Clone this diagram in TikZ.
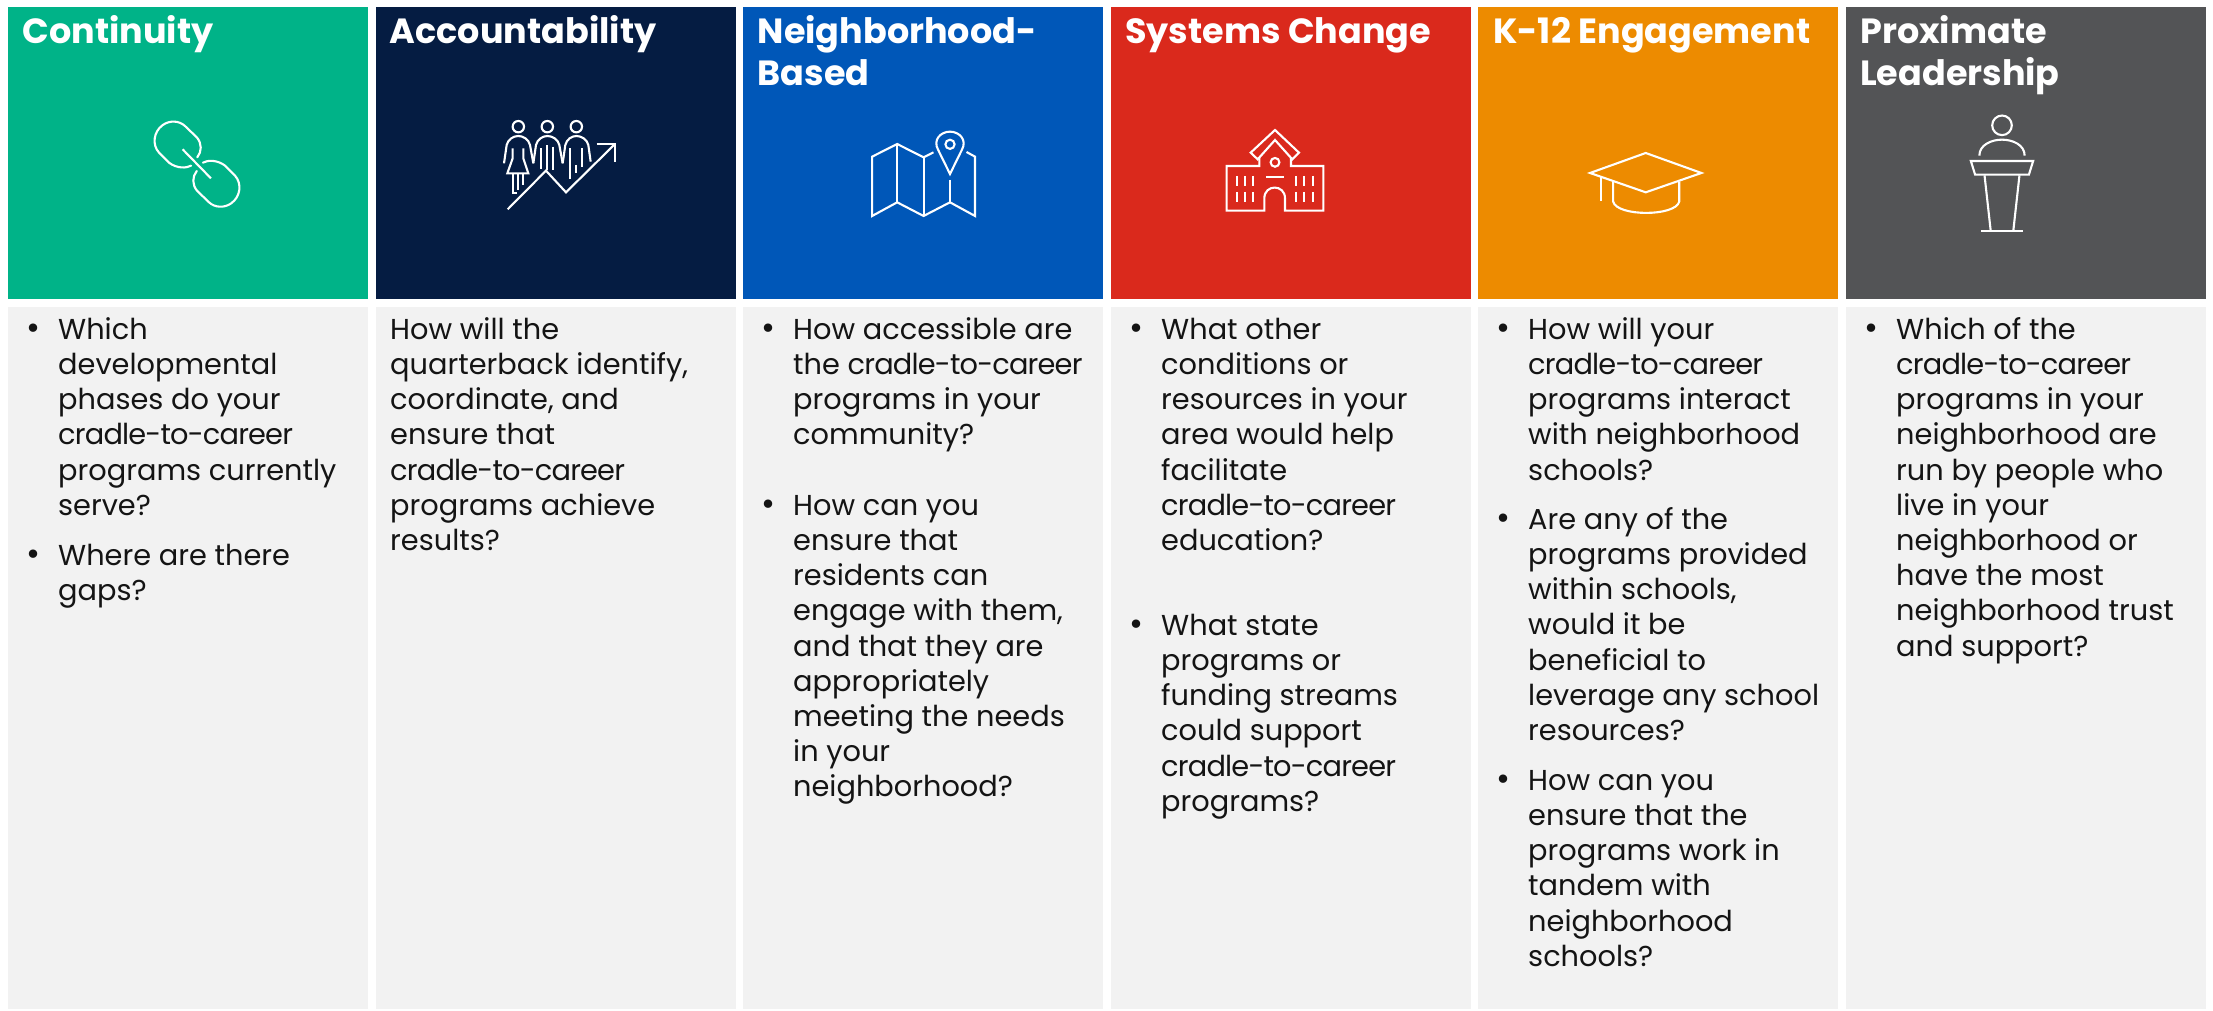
\documentclass[tikz,border=0pt]{standalone}
\usepackage{fontspec}
\setmainfont{Poppins}
\definecolor{cgreen}{RGB}{0,179,136}
\definecolor{cnavy}{RGB}{5,28,66}
\definecolor{cblue}{RGB}{0,87,184}
\definecolor{cred}{RGB}{218,41,28}
\definecolor{corange}{RGB}{237,139,0}
\definecolor{cgray}{RGB}{83,84,86}
\definecolor{clight}{RGB}{242,242,242}
\definecolor{ctext}{RGB}{20,20,20}
\tikzset{
  headbox/.style={anchor=north west,inner sep=0pt,minimum width=359.8pt,minimum height=292pt},
  bodybox/.style={anchor=north west,inner sep=0pt,fill=clight,minimum width=359.8pt,minimum height=702.5pt},
  headtext/.style={anchor=north west,inner sep=0pt,align=left,text=white,font=\fontsize{35}{42}\selectfont\bfseries},
  bodytext/.style={anchor=north west,inner sep=0pt,align=left,text=ctext,font=\fontsize{28.8}{35.2}\selectfont},
  bulletmark/.style={anchor=north west,inner sep=0pt,text=ctext,font=\fontsize{34}{35.2}\selectfont},
  icon/.style={draw=white,line width=2.1pt,line join=miter},
}
\newcommand{\hs}{\rule{0pt}{40pt}}
\newcommand{\bs}{\rule{0pt}{25pt}}
\newcommand{\ctc}{{\addfontfeature{LetterSpace=-2.8}cradle-to-career}}
\begin{document}
\begin{tikzpicture}[x=1pt,y=-1pt]
\useasboundingbox (0,0) rectangle (2213,1010);
% header boxes
\node[headbox,fill=cgreen]  (h1) at (8,6.5) {};
\node[headbox,fill=cnavy]   (h2) at (375.5,6.5) {};
\node[headbox,fill=cblue]   (h3) at (743,6.5) {};
\node[headbox,fill=cred]    (h4) at (1110.5,6.5) {};
\node[headbox,fill=corange] (h5) at (1478,6.5) {};
\node[headbox,fill=cgray]   (h6) at (1845.7,6.5) {};
% body boxes
\node[bodybox] (b1) at (8,306.7) {};
\node[bodybox] (b2) at (375.5,306.7) {};
\node[bodybox] (b3) at (743,306.7) {};
\node[bodybox] (b4) at (1110.5,306.7) {};
\node[bodybox] (b5) at (1478,306.7) {};
\node[bodybox] (b6) at (1845.7,306.7) {};
% titles: baseline = y + 40
\node[headtext] (t1) at (22.5,3) {\hs Continuity};
\node[headtext] (t2) at (389.5,3) {\hs Accountability};
\node[headtext] (t3) at (757.5,3) {\hs Neighborhood-\\Based};
\node[headtext] (t4) at (1125,3) {\hs Systems Change};
\node[headtext] (t5) at (1493,3) {\hs K-12 Engagement};
\node[headtext] (t6) at (1860,3) {\hs Proximate\\Leadership};
% column 1
\node[bulletmark] (m11) at (26,314) {\bs •};
\node[bodytext] (p11) at (58,314) {\bs Which\\developmental\\phases do your\\\ctc\\programs currently\\serve?};
\node[bulletmark] (m12) at (26,540) {\bs •};
\node[bodytext] (p12) at (58,540) {\bs Where are there\\gaps?};
% column 2
\node[bodytext] (p21) at (390,314) {\bs How will the\\quarterback identify,\\coordinate, and\\ensure that\\\ctc\\programs achieve\\results?};
% column 3
\node[bulletmark] (m31) at (761,314) {\bs •};
\node[bodytext] (p31) at (793,314) {\bs How accessible are\\the \ctc\\programs in your\\community?};
\node[bulletmark] (m32) at (761,490) {\bs •};
\node[bodytext] (p32) at (793,490) {\bs How can you\\ensure that\\residents can\\engage with them,\\and that they are\\appropriately\\meeting the needs\\in your\\neighborhood?};
% column 4
\node[bulletmark] (m41) at (1129,314) {\bs •};
\node[bodytext] (p41) at (1161,314) {\bs What other\\conditions or\\resources in your\\area would help\\facilitate\\\ctc\\education?};
\node[bulletmark] (m42) at (1129,610) {\bs •};
\node[bodytext] (p42) at (1161,610) {\bs What state\\programs or\\funding streams\\could support\\\ctc\\programs?};
% column 5
\node[bulletmark] (m51) at (1496,314) {\bs •};
\node[bodytext] (p51) at (1528,314) {\bs How will your\\\ctc\\programs interact\\with neighborhood\\schools?};
\node[bulletmark] (m52) at (1496,504) {\bs •};
\node[bodytext] (p52) at (1528,504) {\bs Are any of the\\programs provided\\within schools,\\would it be\\beneficial to\\leverage any school\\resources?};
\node[bulletmark] (m53) at (1496,765) {\bs •};
\node[bodytext] (p53) at (1528,765) {\bs How can you\\ensure that the\\programs work in\\tandem with\\neighborhood\\schools?};
% column 6
\node[bulletmark] (m61) at (1864,314) {\bs •};
\node[bodytext] (p61) at (1896,314) {\bs Which of the\\\ctc\\programs in your\\neighborhood are\\run by people who\\live in your\\neighborhood or\\have the most\\neighborhood trust\\and support?};
% chain icon
\begin{scope}[x=0.4719pt,y=-0.3333pt]
\draw[icon,line cap=round] (405,497) .. controls (395,505) and (375,506) .. (358,488) -- (337,458) .. controls (322,435) and (325,395) .. (345,375) .. controls (360,360) and (380,362) .. (392,378) -- (417,412) .. controls (428,430) and (428,455) .. (418,472);
\draw[icon,line cap=round] (430,488) .. controls (440,480) and (460,479) .. (477,497) -- (498,527) .. controls (513,550) and (510,590) .. (490,610) .. controls (475,625) and (455,623) .. (443,607) -- (418,573) .. controls (407,555) and (407,530) .. (417,513);
\draw[icon] (387,448) -- (447,535);
\end{scope}
% accountability icon
\begin{scope}[shift={(480,110)},x=0.3333pt,y=-0.3333pt]
\draw[icon] (115,50) circle[radius=5.7pt] (202,50) circle[radius=5.7pt] (289,50) circle[radius=5.7pt];
\draw[icon] (72,160) -- (80,105) .. controls (84,88) and (100,78) .. (115,78) .. controls (130,78) and (146,88) .. (150,105) -- (160,160);
\draw[icon] (98,115) -- (98,145) -- (82,190) -- (145,190) -- (130,145) -- (130,115);
\draw[icon] (115,190) -- (115,240) (98,190) -- (98,250) -- (112,250) (130,190) -- (130,225);
\draw[icon] (160,160) -- (168,105) .. controls (172,88) and (188,78) .. (202,78) .. controls (218,78) and (234,88) .. (238,105) -- (248,160);
\draw[icon] (182,115) -- (182,178) (202,105) -- (202,180) (218,110) -- (218,180);
\draw[icon] (248,160) -- (256,105) .. controls (260,88) and (275,78) .. (289,78) .. controls (305,78) and (321,88) .. (325,105) -- (332,155);
\draw[icon] (270,115) -- (270,208) (305,115) -- (305,170) (288,165) -- (288,190);
\draw[icon] (83,298) -- (198,182) -- (258,247) -- (405,102);
\draw[icon] (350,102) -- (405,102) -- (405,155);
\end{scope}
% map icon
\begin{scope}[shift={(740,0)},x=0.4719pt,y=-0.3333pt]
\draw[icon] (410,457) -- (389,472) -- (333,432) -- (280,470) -- (280,648) -- (333,607) -- (389,648) -- (445,607) -- (498,648) -- (498,470) -- (480,456);
\draw[icon] (333,432) -- (333,607) (389,472) -- (389,648) (445,540) -- (445,607);
\draw[icon] (445,522) -- (420,450) .. controls (408,420) and (425,395) .. (445,395) .. controls (465,395) and (482,420) .. (470,450) -- cycle;
\draw[icon] (445,433) circle[radius=4.6pt];
\end{scope}
% school icon
\begin{scope}[shift={(1210,120)},x=0.3333pt,y=-0.3333pt]
\draw[icon] (122,98) -- (195,30) -- (267,98) -- (247,118) -- (195,60) -- (143,118) -- cycle;
\draw[icon] (148,112) -- (148,138) -- (50,138) -- (50,272) -- (163,272) -- (163,235) .. controls (163,192) and (225,192) .. (225,235) -- (225,272) -- (340,272) -- (340,138) -- (243,138) -- (243,112);
\draw[icon] (195,127) circle[radius=4.4pt];
\draw[icon] (168,171) -- (222,171);
\draw[icon] (80,168) -- (80,197) (104,168) -- (104,197) (130,168) -- (130,197) (258,168) -- (258,197) (283,168) -- (283,197) (308,168) -- (308,197);
\draw[icon] (80,216) -- (80,245) (104,216) -- (104,245) (130,216) -- (130,245) (258,216) -- (258,245) (283,216) -- (283,245) (308,216) -- (308,245);
\end{scope}
% cap icon
\begin{scope}[shift={(1473,0)},x=0.4719pt,y=-0.3333pt]
\draw[icon] (248,519) -- (366,459) -- (484,519) -- (366,577) -- cycle;
\draw[icon] (271,532) -- (271,603);
\draw[icon] (297,545) -- (297,605) .. controls (305,650) and (429,650) .. (437,605) -- (437,545);
% podium icon
\draw[icon] (1121,376) circle[radius=9.8pt];
\draw[icon] (1073,467) .. controls (1073,435) and (1098,419) .. (1121,419) .. controls (1144,419) and (1169,435) .. (1169,467);
\draw[icon] (1055,483) -- (1187,483) -- (1178,524) -- (1064,524) -- cycle;
\draw[icon] (1084,526) -- (1097,692) (1158,526) -- (1145,692);
\draw[icon] (1076,692) -- (1165,692);
\end{scope}
\end{tikzpicture}
\end{document}
